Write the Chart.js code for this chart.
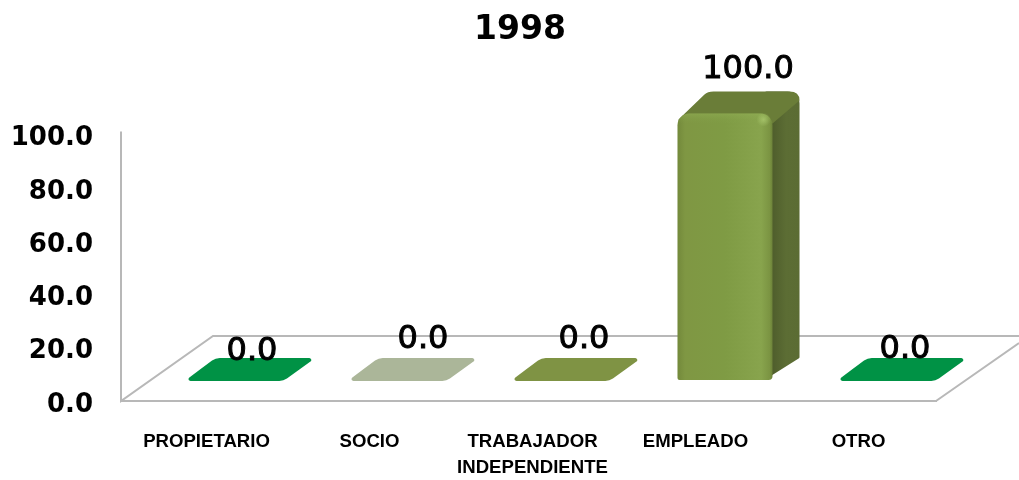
<!DOCTYPE html>
<html>
<head>
<meta charset="utf-8">
<style>html,body{margin:0;padding:0;background:#fff}#wrap{width:1019px;height:480px}canvas{display:block}</style>
<script src="https://cdn.jsdelivr.net/npm/chart.js@4"></script>
</head>
<body>
<div id="wrap"><canvas id="c" width="1019" height="480"></canvas></div>
<script>
const chartTitle = '1998';
const categories = ['PROPIETARIO', 'SOCIO', ['TRABAJADOR', 'INDEPENDIENTE'], 'EMPLEADO', 'OTRO'];
const values = [0, 0, 0, 100, 0];
const barColors = ['#009245', '#abb699', '#7f9344', '#82a047', '#009245'];
const yTicks = [0, 20, 40, 60, 80, 100];
const labelShiftX = [49.5, 57.5, 55.5, 56.5, 50.5];
const labelShiftY = [-49, -61, -61, -65, -51];

const GREY = '#b8b8b8';
const SHIFT = {x: 33.5, y: -21};
const DEPTH = {x: 27, y: -22};

function roundedPath(ctx, pts, radii) {
  const n = pts.length;
  const mid = (a, b) => [(a[0] + b[0]) / 2, (a[1] + b[1]) / 2];
  ctx.beginPath();
  const s = mid(pts[n - 1], pts[0]);
  ctx.moveTo(s[0], s[1]);
  for (let i = 0; i < n; i++) {
    const p = pts[i], q = pts[(i + 1) % n];
    ctx.arcTo(p[0], p[1], q[0], q[1], radii[i]);
  }
  ctx.closePath();
}

const floorAndBars = {
  id: 'floorAndBars',
  beforeDatasetsDraw(chart) {
    const {ctx, chartArea: a} = chart;
    ctx.save();
    ctx.strokeStyle = GREY;
    ctx.lineWidth = 2;
    ctx.beginPath();
    ctx.moveTo(a.left, a.top - 3);
    ctx.lineTo(a.left, a.bottom);
    ctx.lineTo(a.left + 92, a.bottom - 65);
    ctx.lineTo(chart.width, a.bottom - 65);
    ctx.moveTo(a.right, a.bottom);
    ctx.lineTo(a.right + 83, a.bottom - 58);
    ctx.stroke();
    ctx.restore();
  },
  beforeDatasetDraw(chart) {
    const {ctx} = chart;
    const meta = chart.getDatasetMeta(0);
    meta.data.forEach((el, i) => {
      const w = el.width;
      const L = el.x - w / 2 + SHIFT.x, R = L + w;
      const B = el.base + SHIFT.y, T = el.y + SHIFT.y;
      const c = barColors[i];
      ctx.save();
      if (B - T < 1) {
        ctx.fillStyle = c;
        roundedPath(ctx, [[L - 4, B + 1], [R, B + 1], [R + DEPTH.x + 5, B + DEPTH.y], [L + DEPTH.x, B + DEPTH.y]], [2, 13, 2, 13]);
        ctx.fill();
      } else {
        // side face
        const side = ctx.createLinearGradient(R, 0, R + DEPTH.x, 0);
        side.addColorStop(0, '#4f5e2c');
        side.addColorStop(0.5, '#5c6d34');
        side.addColorStop(1, '#5b6c33');
        ctx.fillStyle = side;
        roundedPath(ctx, [[R - 8, B], [R + DEPTH.x, B + DEPTH.y], [R + DEPTH.x, T + DEPTH.y], [R - 8, T + DEPTH.y]], [2, 2, 12, 2]);
        ctx.fill();
        // top face
        const bx = L + DEPTH.x + 3, by = T + DEPTH.y, rx = R + DEPTH.x;
        ctx.fillStyle = '#6a7d38';
        ctx.beginPath();
        ctx.moveTo(L + 1, T + 6);
        ctx.lineTo(bx - 3, by + 3);
        ctx.quadraticCurveTo(bx, by, bx + 6, by);
        ctx.lineTo(rx - 10, by);
        ctx.quadraticCurveTo(rx, by, rx, by + 9);
        ctx.lineTo(R, T + 10);
        ctx.lineTo(L + 1, T + 10);
        ctx.closePath();
        ctx.fill();
        // front face
        const front = ctx.createLinearGradient(L, 0, R, 0);
        front.addColorStop(0, '#73893b');
        front.addColorStop(0.08, '#7f9743');
        front.addColorStop(0.5, '#7f9b44');
        front.addColorStop(0.88, '#88a44d');
        front.addColorStop(0.97, '#7b9442');
        front.addColorStop(1, '#6c8239');
        ctx.fillStyle = front;
        roundedPath(ctx, [[L, B], [R, B], [R, T], [L, T]], [2, 4, 12, 12]);
        ctx.fill();
        // top bevel
        const bevel = ctx.createLinearGradient(0, T - 2, 0, T + 10);
        bevel.addColorStop(0, 'rgba(150,180,90,0.55)');
        bevel.addColorStop(1, 'rgba(130,160,72,0)');
        ctx.fillStyle = bevel;
        roundedPath(ctx, [[L, T + 12], [R, T + 12], [R, T], [L, T]], [0, 0, 12, 12]);
        ctx.fill();
        // highlight near the front right corner
        const glow = ctx.createRadialGradient(R - 9, T + 6, 0, R - 9, T + 6, 7);
        glow.addColorStop(0, 'rgba(170,200,110,0.8)');
        glow.addColorStop(1, 'rgba(170,200,110,0)');
        ctx.fillStyle = glow;
        ctx.fillRect(R - 16, T - 1, 14, 14);
      }
      ctx.restore();
    });
    return false;
  },
  afterDatasetsDraw(chart) {
    const {ctx} = chart;
    const meta = chart.getDatasetMeta(0);
    ctx.save();
    ctx.font = '32px "DejaVu Sans"';
    ctx.textAlign = 'center';
    ctx.textBaseline = 'middle';
    ctx.fillStyle = '#000';
    ctx.strokeStyle = '#000';
    ctx.lineWidth = 1;
    meta.data.forEach((el, i) => {
      const t = values[i].toFixed(1);
      const x = el.x + labelShiftX[i], y = el.y + labelShiftY[i];
      ctx.fillText(t, x, y);
      ctx.strokeText(t, x, y);
    });
    ctx.restore();
  }
};

new Chart(document.getElementById('c'), {
  type: 'bar',
  data: {
    labels: categories,
    datasets: [{data: values, backgroundColor: barColors, barPercentage: 0.583, categoryPercentage: 1}]
  },
  plugins: [floorAndBars],
  options: {
    responsive: false,
    animation: false,
    layout: {padding: {left: 0, right: -21, top: 0, bottom: 0}},
    plugins: {
      legend: {display: false},
      tooltip: {enabled: false},
      title: {
        display: true,
        text: chartTitle,
        color: '#000',
        font: {family: '"DejaVu Sans"', size: 33, weight: 'bold', lineHeight: 1.2},
        padding: {top: 11, bottom: 84}
      }
    },
    scales: {
      x: {
        grid: {display: false, drawTicks: false},
        border: {display: true, color: GREY, width: 2},
        afterFit(s) { s.height = 79; },
        ticks: {
          color: '#000',
          autoSkip: false,
          maxRotation: 0,
          minRotation: 0,
          labelOffset: 4,
          padding: 28,
          font: {family: '"Liberation Sans"', size: 18.6, weight: 'bold', lineHeight: 1.4}
        }
      },
      y: {
        min: 0,
        max: 100,
        afterFit(s) { s.width = 121; },
        afterBuildTicks(s) { s.ticks = yTicks.map(v => ({value: v})); },
        grid: {display: false, drawTicks: false},
        border: {display: false},
        ticks: {
          color: '#000',
          padding: 28,
          labelOffset: 4,
          callback: v => Number(v).toFixed(1),
          font: {family: '"DejaVu Sans"', size: 26, weight: 'bold'}
        }
      },
      spacer: {
        position: 'right',
        display: true,
        afterFit(s) { s.width = 104; },
        grid: {display: false, drawTicks: false},
        border: {display: false},
        ticks: {display: false}
      }
    }
  }
});
</script>
</body>
</html>
